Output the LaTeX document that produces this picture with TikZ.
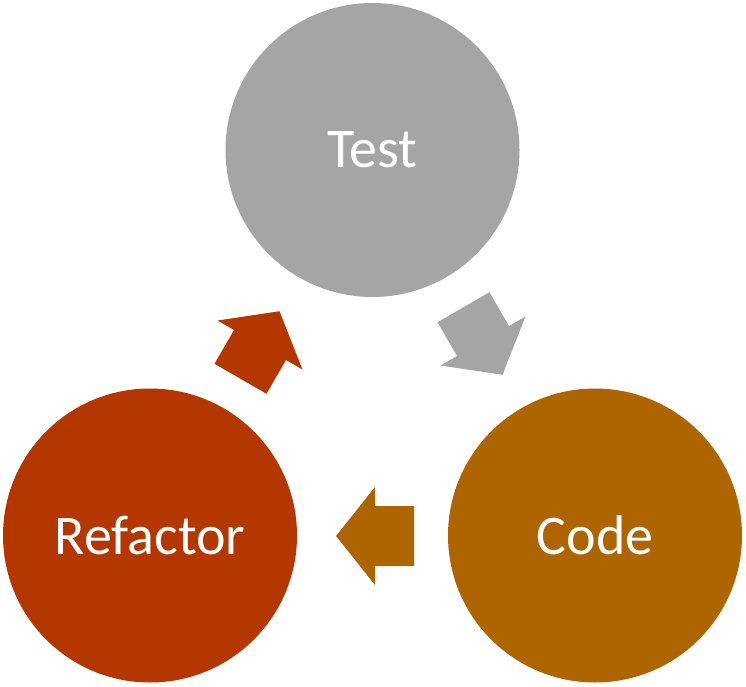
\documentclass[tikz,border=0pt]{standalone}
\usepackage{fontspec}
\setmainfont{Carlito}
\definecolor{testgray}{HTML}{A5A5A5}
\definecolor{codebrown}{HTML}{AE6500}
\definecolor{refred}{HTML}{B43700}
\begin{document}
\begin{tikzpicture}[x=1pt,y=1pt,
  phase/.style={circle, minimum size=294pt, inner sep=0pt, text=white,
    font=\fontsize{56}{60}\selectfont},
  pics/blockarrow/.style={code={\fill[#1] (39,0) -- (0,49) -- (0,30) -- (-39,30)
      -- (-39,-30) -- (0,-30) -- (0,-49) -- cycle;}}]
\useasboundingbox (0,0) rectangle (746,686);
\node[phase, fill=testgray] (test) at (372.5,536) {Test};
\node[phase, fill=codebrown] (code) at (595,150.5) {Code};
\node[phase, fill=refred] (refactor) at (150,150.5) {Refactor};
\pic[rotate=-60] at (483,345) {blockarrow=testgray};
\pic[rotate=180] at (375,150) {blockarrow=codebrown};
\pic[rotate=60] at (260,341) {blockarrow=refred};
\end{tikzpicture}
\end{document}
